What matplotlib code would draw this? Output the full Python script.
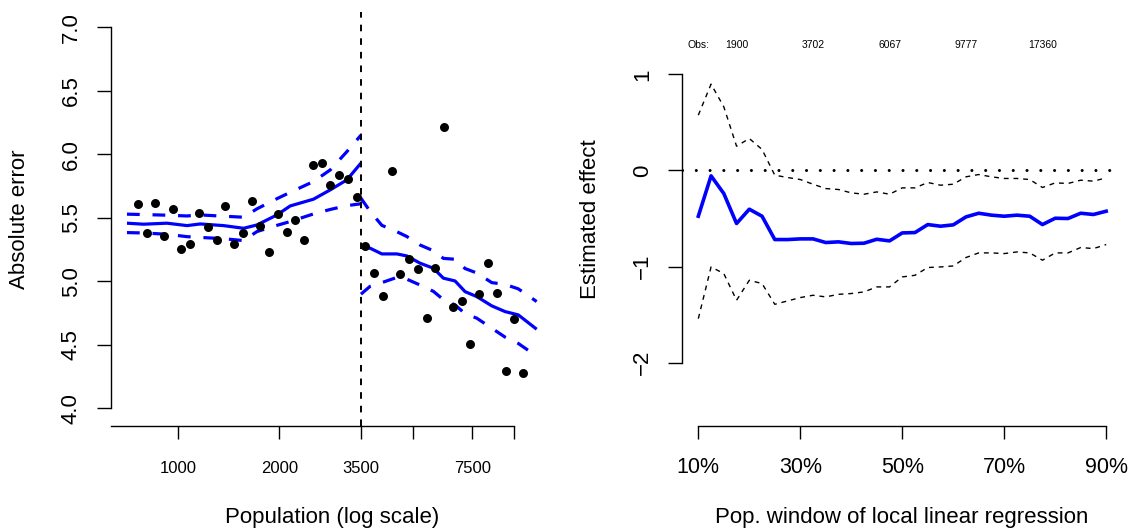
import matplotlib
matplotlib.use("Agg")
import matplotlib.pyplot as plt
import numpy as np

plt.rcParams['font.family'] = ['Liberation Sans', 'DejaVu Sans']

# ---------------- Left panel data ----------------
pop_bins = [759, 806, 856, 909, 965, 1024, 1088, 1155, 1226, 1302, 1383, 1468,
            1559, 1655, 1757, 1866, 1981, 2104, 2234, 2372, 2518, 2674, 2839,
            3015, 3201, 3399, 3609, 3832, 4069, 4320, 4587, 4871, 5172, 5491,
            5831, 6191, 6574, 6980, 7411, 7869, 8356, 8872, 9420, 10002, 10620]
abs_err = [5.606, 5.378, 5.617, 5.359, 5.572, 5.257, 5.291, 5.540, 5.430, 5.325,
           5.591, 5.291, 5.383, 5.630, 5.435, 5.231, 5.530, 5.391, 5.485, 5.325,
           5.918, 5.931, 5.756, 5.837, 5.808, 5.664, 5.280, 5.068, 4.884, 5.871,
           5.060, 5.178, 5.099, 4.709, 5.102, 6.217, 4.798, 4.845, 4.509, 4.902,
           5.144, 4.910, 4.294, 4.706, 4.276]

fit_left_x = [705, 790, 927, 1063, 1165, 1366, 1567, 1717, 1969, 2157, 2529, 2835, 3178, 3500]
fit_left = [5.457, 5.449, 5.457, 5.438, 5.451, 5.438, 5.417, 5.443, 5.522, 5.593, 5.646, 5.719, 5.798, 5.930]
fit_left_hi = [5.528, 5.525, 5.520, 5.514, 5.522, 5.512, 5.504, 5.570, 5.650, 5.700, 5.785, 5.876, 6.020, 6.150]
fit_left_lo = [5.383, 5.380, 5.370, 5.351, 5.345, 5.335, 5.320, 5.391, 5.440, 5.470, 5.530, 5.565, 5.595, 5.610]

fit_right_x = [3500, 3727, 4039, 4475, 4793, 5248, 5749, 6156, 6668, 7141, 7737, 8574, 9390, 10280, 11660]
fit_right = [5.272, 5.260, 5.215, 5.215, 5.199, 5.142, 5.102, 5.024, 5.002, 4.918, 4.879, 4.806, 4.761, 4.735, 4.622]
fit_right_hi = [5.654, 5.550, 5.440, 5.390, 5.352, 5.285, 5.240, 5.180, 5.173, 5.100, 5.065, 4.989, 4.975, 4.940, 4.840]
fit_right_lo = [4.898, 4.960, 4.989, 5.030, 5.016, 4.970, 4.920, 4.855, 4.813, 4.745, 4.709, 4.630, 4.560, 4.510, 4.410]

cutoff = 3500
x_ticks = [1000, 2000, 3500, 5000, 7500, 10000]
x_ticklabels = ['1000', '2000', '3500', '', '7500', '']
y_ticks_left = [4.0, 4.5, 5.0, 5.5, 6.0, 6.5, 7.0]

# ---------------- Right panel data ----------------
window_pct = [10, 12.5, 15, 17.5, 20, 22.5, 25, 27.5, 30, 32.5, 35, 37.5, 40, 42.5,
              45, 47.5, 50, 52.5, 55, 57.5, 60, 62.5, 65, 67.5, 70, 72.5, 75, 77.5,
              80, 82.5, 85, 87.5, 90]
effect = [-0.476, -0.056, -0.240, -0.552, -0.403, -0.476, -0.719, -0.719, -0.712,
          -0.712, -0.750, -0.743, -0.760, -0.757, -0.716, -0.733, -0.650, -0.646,
          -0.563, -0.580, -0.566, -0.483, -0.445, -0.465, -0.476, -0.465, -0.476,
          -0.563, -0.497, -0.500, -0.445, -0.458, -0.424]
effect_hi = [0.576, 0.899, 0.663, 0.253, 0.333, 0.219, -0.049, -0.073, -0.094,
             -0.143, -0.188, -0.198, -0.233, -0.247, -0.223, -0.247, -0.181, -0.181,
             -0.125, -0.153, -0.143, -0.066, -0.042, -0.066, -0.083, -0.083, -0.094,
             -0.177, -0.129, -0.135, -0.101, -0.111, -0.077]
effect_lo = [-1.542, -1.004, -1.073, -1.351, -1.143, -1.177, -1.393, -1.358, -1.323,
             -1.299, -1.316, -1.289, -1.281, -1.264, -1.212, -1.212, -1.108, -1.091,
             -1.010, -1.004, -0.994, -0.906, -0.858, -0.858, -0.865, -0.848, -0.858,
             -0.934, -0.858, -0.858, -0.802, -0.813, -0.771]
obs_pct = [17.5, 32.5, 47.5, 62.5, 77.5]
obs_labels = ['1900', '3702', '6067', '9777', '17360']
x_ticks_right = [10, 30, 50, 70, 90]
x_ticklabels_right = ['10%', '30%', '50%', '70%', '90%']
y_ticks_right = [-2, -1, 0, 1]

# ---------------- Figure ----------------
W, H = 1133, 531
fig = plt.figure(figsize=(W / 100, H / 100), dpi=100)
ax1 = fig.add_axes([111 / W, (H - 426) / H, (553 - 111) / W, (426 - 12) / H])
ax2 = fig.add_axes([682 / W, (H - 426) / H, (1122 - 682) / W, (426 - 12) / H])

blue = '#0000FF'
lw_fit = 2.3

# Left panel
ax1.set_xscale('log')
ax1.set_xlim(632, 13040)
ax1.set_ylim(3.86, 7.12)
ax1.scatter(pop_bins, abs_err, s=42, color='black', zorder=3, linewidths=0)
for xs, ys, ls in [(fit_left_x, fit_left, '-'), (fit_left_x, fit_left_hi, (0, (4, 4))),
                   (fit_left_x, fit_left_lo, (0, (4, 4))),
                   (fit_right_x, fit_right, '-'), (fit_right_x, fit_right_hi, (0, (4, 4))),
                   (fit_right_x, fit_right_lo, (0, (4, 4)))]:
    ax1.plot(xs, ys, color=blue, lw=lw_fit, linestyle=ls, solid_capstyle='butt')
ax1.axvline(cutoff, color='black', lw=1.4, linestyle=(0, (3.4, 3.6)))

ax1.set_xticks(x_ticks)
ax1.set_xticklabels(x_ticklabels, fontsize=12)
ax1.xaxis.set_minor_locator(matplotlib.ticker.NullLocator())
ax1.set_yticks(y_ticks_left)
ax1.set_yticklabels([f'{v:.1f}' for v in y_ticks_left], fontsize=16, rotation=90, va='center')
ax1.spines['left'].set_bounds(4.0, 7.0)
ax1.spines['bottom'].set_bounds(632, 10000)
ax1.tick_params(axis='y', length=10, width=1, pad=11)
ax1.tick_params(axis='x', length=9, width=1, pad=16)

# Right panel
ax2.set_xlim(6.8, 93.1)
ax2.set_ylim(-2.66, 1.65)
ax2.axhline(0, color='black', lw=2.2, linestyle=(0, (0.01, 4.5)), dash_capstyle='round')
ax2.plot(window_pct, effect_hi, color='black', lw=1.0, linestyle=(0, (3.5, 3.5)))
ax2.plot(window_pct, effect_lo, color='black', lw=1.0, linestyle=(0, (3.5, 3.5)))
ax2.plot(window_pct, effect, color=blue, lw=2.6)
ax2.text(10, 1.305, 'Obs:', fontsize=7.5, ha='center', va='center')
for p, t in zip(obs_pct, obs_labels):
    ax2.text(p, 1.305, t, fontsize=7.5, ha='center', va='center')

ax2.set_xticks(x_ticks_right)
ax2.set_xticklabels(x_ticklabels_right, fontsize=15.5)
ax2.set_yticks(y_ticks_right)
ax2.set_yticklabels([f'{v:d}'.replace('-', '\u2212') for v in y_ticks_right], fontsize=16,
                    rotation=90, va='center')
ax2.spines['left'].set_bounds(-2, 1)
ax2.spines['bottom'].set_bounds(10, 90)
ax2.tick_params(axis='y', length=10, width=1, pad=11)
ax2.tick_params(axis='x', length=9, width=1, pad=13)

for ax in (ax1, ax2):
    ax.spines['top'].set_visible(False)
    ax.spines['right'].set_visible(False)
    ax.spines['left'].set_linewidth(1)
    ax.spines['bottom'].set_linewidth(1)
    ax.patch.set_visible(False)

fig.text(20 / W, 1 - 219 / H, 'Absolute error', rotation=90, fontsize=16, ha='center', va='center')
fig.text(591 / W, 1 - 219 / H, 'Estimated effect', rotation=90, fontsize=16, ha='center', va='center')
fig.text(332 / W, 1 - 518 / H, 'Population (log scale)', fontsize=16, ha='center', va='center')
fig.text(902 / W, 1 - 518 / H, 'Pop. window of local linear regression', fontsize=16, ha='center', va='center')

fig.savefig('out.png', dpi=100)
